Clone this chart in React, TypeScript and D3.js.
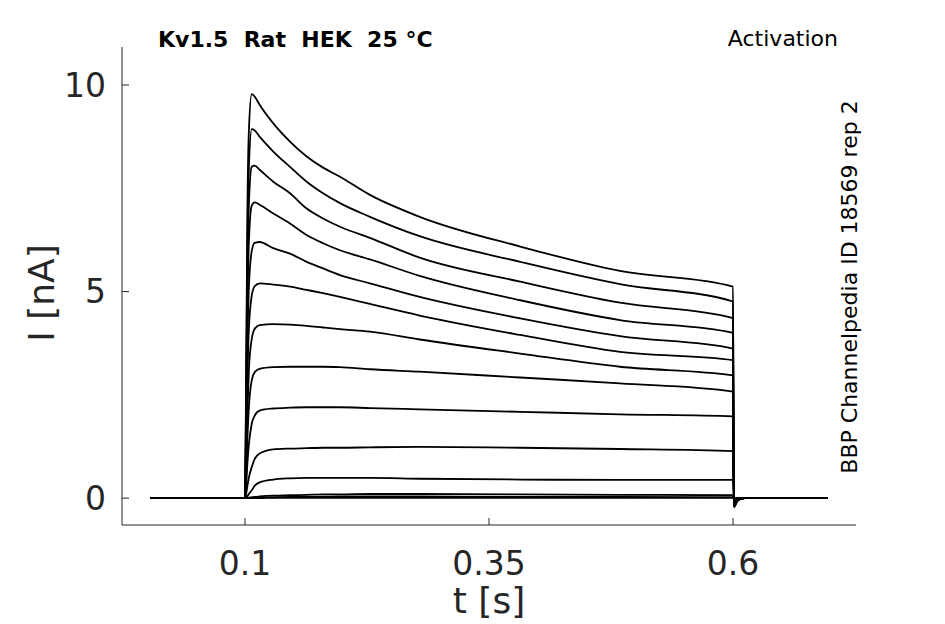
import { line, scaleLinear, curveMonotoneX } from 'd3'

// sample times (s) shared by every sweep
const sampleTimes = [
  0.0027, 0.1, 0.1012, 0.1025, 0.104, 0.1069, 0.11, 0.115, 0.129, 0.1461, 0.1632, 0.18, 0.1973, 0.228, 0.279,
  0.382, 0.4842, 0.6, 0.6008, 0.605, 0.612, 0.697,
]

// current (nA) per sweep at sampleTimes
const sweep1 = [0, 0, 3.0, 7.0, 8.9, 9.78, 9.72, 9.52, 9.07, 8.63, 8.27, 8.0, 7.78, 7.34, 6.81, 6.09, 5.5, 5.12, -0.22, -0.06, 0, 0]
const sweep2 = [0, 0, 2.6, 6.2, 8.0, 8.93, 8.9, 8.75, 8.39, 8.02, 7.66, 7.38, 7.14, 6.81, 6.34, 5.72, 5.18, 4.76, -0.2, -0.05, 0, 0]
const sweep3 = [0, 0, 2.2, 5.4, 7.1, 8.02, 8.05, 7.95, 7.66, 7.38, 7.01, 6.77, 6.57, 6.3, 5.82, 5.24, 4.73, 4.36, -0.19, -0.05, 0, 0]
const sweep4 = [0, 0, 1.8, 4.6, 6.2, 7.08, 7.16, 7.1, 6.89, 6.65, 6.37, 6.17, 6.0, 5.78, 5.38, 4.79, 4.31, 4.0, -0.17, -0.04, 0, 0]
const sweep5 = [0, 0, 1.4, 3.7, 5.1, 5.98, 6.18, 6.2, 6.05, 5.92, 5.72, 5.56, 5.4, 5.2, 4.87, 4.35, 3.92, 3.62, -0.15, -0.04, 0, 0]
const sweep6 = [0, 0, 1.1, 2.9, 4.1, 4.9, 5.13, 5.2, 5.17, 5.12, 5.04, 4.96, 4.87, 4.7, 4.42, 3.95, 3.54, 3.34, -0.13, -0.03, 0, 0]
const sweep7 = [0, 0, 0.8, 2.1, 3.1, 3.85, 4.1, 4.19, 4.21, 4.2, 4.17, 4.13, 4.09, 4.03, 3.84, 3.5, 3.18, 2.97, -0.11, -0.03, 0, 0]
const sweep8 = [0, 0, 0.55, 1.45, 2.2, 2.85, 3.05, 3.13, 3.17, 3.18, 3.18, 3.18, 3.17, 3.12, 3.06, 2.92, 2.78, 2.58, -0.09, -0.02, 0, 0]
const sweep9 = [0, 0, 0.3, 0.85, 1.3, 1.8, 2.0, 2.12, 2.17, 2.19, 2.2, 2.2, 2.2, 2.18, 2.15, 2.09, 2.03, 1.98, -0.07, -0.02, 0, 0]
const sweep10 = [0, 0, 0.1, 0.3, 0.5, 0.75, 0.95, 1.08, 1.18, 1.2, 1.21, 1.22, 1.22, 1.23, 1.24, 1.22, 1.19, 1.14, -0.05, -0.01, 0, 0]
const sweep11 = [0, 0, 0.01, 0.05, 0.1, 0.19, 0.3, 0.38, 0.45, 0.48, 0.49, 0.49, 0.49, 0.49, 0.47, 0.45, 0.44, 0.44, -0.03, -0.01, 0, 0]
const sweep12 = [0, 0, 0, 0.01, 0.01, 0.02, 0.03, 0.04, 0.06, 0.07, 0.08, 0.09, 0.09, 0.1, 0.1, 0.09, 0.08, 0.07, -0.02, 0, 0, 0]
const sweep13 = [0, 0, 0, 0, 0, 0.01, 0.01, 0.015, 0.02, 0.03, 0.03, 0.035, 0.04, 0.04, 0.04, 0.03, 0.03, 0.02, -0.01, 0, 0, 0]
const sweep14 = [0, 0, 0, 0, 0, 0, 0, 0, 0.01, 0.01, 0.01, 0.01, 0.01, 0.01, 0.01, 0.01, 0.01, 0.01, 0, 0, 0, 0]

const sweeps = [sweep1, sweep2, sweep3, sweep4, sweep5, sweep6, sweep7, sweep8, sweep9, sweep10, sweep11, sweep12, sweep13, sweep14]

const xTicks = [0.1, 0.35, 0.6]
const xTickLabels = ['0.1', '0.35', '0.6']
const yTicks = [0, 5, 10]
const yTickLabels = ['0', '5', '10']

const font = 'DejaVu Sans, sans-serif'
const axisColor = '#262626'

export default function App() {
  const width = 945
  const height = 624
  const xScale = scaleLinear().domain([-0.026, 0.726]).range([122, 856])
  const yScale = scaleLinear().domain([-0.65, 10.92]).range([525, 47])
  const path = line<number>()
    .x((_, i) => xScale(sampleTimes[i]))
    .y((v) => yScale(v))
    .curve(curveMonotoneX)

  const [x0, x1] = xScale.range()
  const [y0, y1] = yScale.range()

  return (
    <svg
      width={width}
      height={height}
      viewBox={`0 0 ${width} ${height}`}
      style={{ position: 'absolute', left: 0, top: 0, background: '#ffffff' }}
      fontFamily={font}
    >
      <rect width={width} height={height} fill="#ffffff" />

      {sweeps.map((sweep, i) => (
        <path key={i} d={path(sweep) ?? ''} fill="none" stroke="#000000" strokeWidth="1.8" strokeLinejoin="round" />
      ))}

      {/* axes */}
      <line x1={x0} x2={x0} y1={y0} y2={y1} stroke={axisColor} strokeWidth="1" />
      <line x1={x0} x2={x1} y1={y0} y2={y0} stroke={axisColor} strokeWidth="1" />
      {yTicks.map((tick, i) => (
        <g key={tick}>
          <line x1={x0} x2={x0 + 7} y1={yScale(tick)} y2={yScale(tick)} stroke={axisColor} />
          <text x={x0 - 16} y={yScale(tick)} dy="0.36em" textAnchor="end" fontSize="33" fill={axisColor}>
            {yTickLabels[i]}
          </text>
        </g>
      ))}
      {xTicks.map((tick, i) => (
        <g key={tick}>
          <line x1={xScale(tick)} x2={xScale(tick)} y1={y0} y2={y0 - 7} stroke={axisColor} />
          <text x={xScale(tick)} y={575} textAnchor="middle" fontSize="33" fill={axisColor}>
            {xTickLabels[i]}
          </text>
        </g>
      ))}

      <text x={489} y={613} textAnchor="middle" fontSize="36" fill={axisColor}>t [s]</text>
      <text transform="translate(54,293) rotate(-90)" textAnchor="middle" fontSize="36" fill={axisColor}>I [nA]</text>

      <text x={158} y={47} fontSize="22" fontWeight="bold" fill="#000000" xmlSpace="preserve" style={{ whiteSpace: 'pre' }}>
        Kv1.5  Rat  HEK  25 °C
      </text>
      <text x={838} y={46} textAnchor="end" fontSize="22" fill="#000000">Activation</text>
      <text transform="translate(857,287) rotate(-90)" textAnchor="middle" fontSize="22" fill="#000000">
        BBP Channelpedia ID 18569 rep 2
      </text>
    </svg>
  )
}
